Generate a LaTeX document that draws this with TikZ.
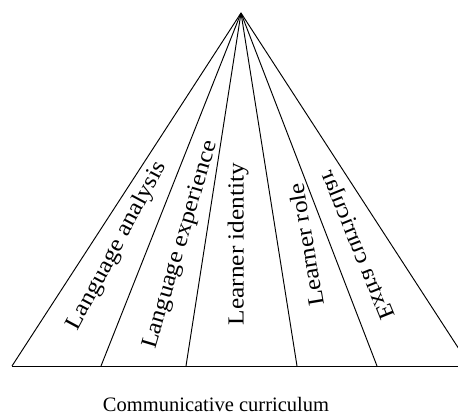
\documentclass[tikz,border=0pt]{standalone}
\usepackage{fontspec}
\setmainfont{Liberation Serif}

\begin{document}
\begin{tikzpicture}[x=1pt,y=1pt,line width=0.95pt,
  lbl/.style={font=\fontsize{23}{26}\selectfont,xscale=1.1}]
  \clip (0,0) rectangle (458,416);

  \coordinate (TOP) at (241,403);
  \coordinate (B1) at (12,50);
  \coordinate (B2) at (101,50);
  \coordinate (B3) at (186,50);
  \coordinate (B4) at (297,50);
  \coordinate (B5) at (377,50);
  \coordinate (B6) at (470,50);

  \draw (B1) -- (B6);
  \foreach \b in {B1,B2,B3,B4,B5,B6}
    \draw (TOP) -- (\b);

  \node (LANA) at (117,170) [rotate=61.8,lbl] {Language analysis};
  \node (LEXP) at (181,171) [rotate=73.5,lbl] {Language experience};
  \node (LIDN) at (238,172) [rotate=90,lbl] {Learner identity};
  \node (LROL) at (306,171) [rotate=99.5,lbl] {Learner role};
  \node (EXTR) at (359,171) [rotate=112,lbl,yscale=-1] {Extra curricular};

  \node (CAPT) at (216,5) [anchor=base,inner sep=1pt,font=\fontsize{20.5}{24}\selectfont] {Communicative curriculum};

\end{tikzpicture}
\end{document}
